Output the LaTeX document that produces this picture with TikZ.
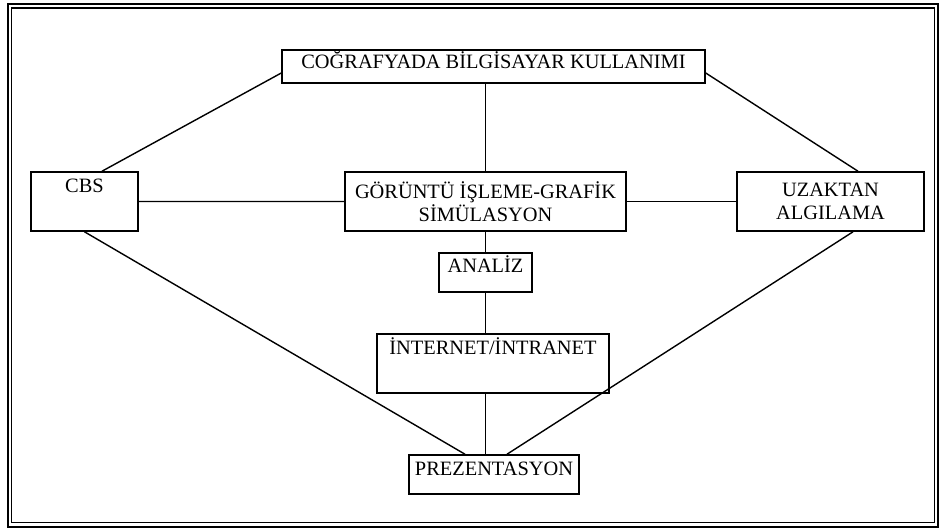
\documentclass[tikz,border=0pt]{standalone}
\usepackage{fontspec}
\setmainfont{Liberation Serif}
\usetikzlibrary{positioning,calc}

\tikzset{
    kutu/.style={draw, line width=0.9pt, inner xsep=0pt, inner ysep=0pt, align=center,
        font=\fontsize{11.6}{13}\selectfont},
    bag/.style={line width=0.8pt}
}

\begin{document}
\begin{tikzpicture}[x=0.02cm, y=-0.02cm]
    \useasboundingbox (0,0) rectangle (939,529);
    % double frame
    \draw[line width=1.4pt] (8,4) rectangle (938,527);
    \draw[line width=0.9pt] (11.5,8) rectangle (934.5,522.5);

    % top box
    \node[kutu, anchor=base, minimum width=8.46cm, text height=0.36cm, text depth=0.30cm]
        (ust) at (493.5,68) {COĞRAFYADA BİLGİSAYAR KULLANIMI};

    % middle row
    \node[kutu, anchor=base, minimum width=2.14cm, text height=0.40cm, text depth=0.78cm]
        (cbs) at (84.5,192) {CBS};
    \node[kutu, minimum width=5.62cm, minimum height=1.18cm]
        (gor) at (485.5,201.5) {GÖRÜNTÜ İŞLEME-GRAFİK\\SİMÜLASYON};
    \node[kutu, minimum width=3.74cm, minimum height=1.18cm]
        (uzak) at (830.5,201.5) {UZAKTAN\\ALGILAMA};

    % lower column
    \node[kutu, anchor=base, minimum width=1.86cm, text height=0.38cm, text depth=0.40cm]
        (analiz) at (485.5,272) {ANALİZ};
    \node[kutu, anchor=base, minimum width=4.64cm, text height=0.40cm, text depth=0.78cm]
        (net) at (493,354) {İNTERNET/İNTRANET};
    \node[kutu, anchor=base, minimum width=3.40cm, text height=0.40cm, text depth=0.38cm]
        (prez) at (494,475) {PREZENTASYON};

    % connections
    \draw[bag] ([yshift=-0.13cm]ust.west) -- ([xshift=0.35cm]cbs.north);
    \draw[bag] ([yshift=-0.13cm]ust.east) -- ([xshift=0.55cm]uzak.north);
    \draw[bag] (gor.north |- ust.south) -- (gor.north);
    \draw[bag] (cbs.east) -- (gor.west);
    \draw[bag] (gor.east) -- (uzak.west);
    \draw[bag] (gor.south) -- (analiz.north);
    \draw[bag] (analiz.south) -- (analiz.south |- net.north);
    \draw[bag] (analiz.south |- net.south) -- (analiz.south |- prez.north);
    \draw[bag] (cbs.south) -- ([xshift=-0.58cm]prez.north);
    \draw[bag] ([xshift=0.45cm]uzak.south) -- ([xshift=0.26cm]prez.north);
\end{tikzpicture}
\end{document}
